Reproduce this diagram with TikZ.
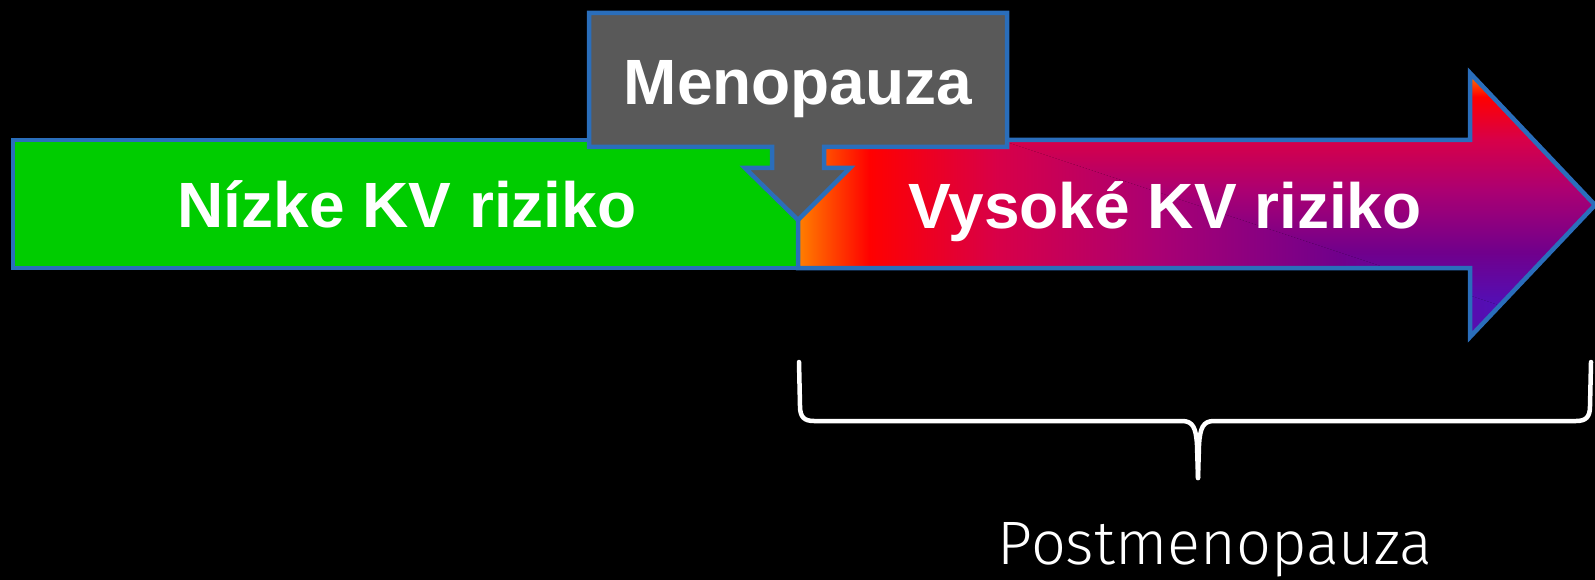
\documentclass[tikz,border=0pt]{standalone}
\usepackage{fontspec}
\setmainfont{Liberation Sans}
\newfontfamily\pmfont{Fira Sans Light}
\definecolor{edge}{RGB}{42,110,187}
\definecolor{lowgreen}{RGB}{0,204,0}
\definecolor{calloutgray}{RGB}{89,89,89}
\definecolor{ga}{RGB}{255,128,0}
\definecolor{gb}{RGB}{255,0,0}
\definecolor{gc}{RGB}{216,0,72}
\definecolor{gd}{RGB}{170,0,115}
\definecolor{ge}{RGB}{112,0,140}
\definecolor{gf}{RGB}{64,24,208}
\pgfdeclarehorizontalshading{riskh}{100bp}{color(0bp)=(ga); color(25bp)=(ga); color(29.5bp)=(gb); color(37.5bp)=(gc); color(47.5bp)=(gd); color(59bp)=(ge); color(75bp)=(gf); color(100bp)=(gf)}
\pgfdeclareverticalshading{riskv}{100bp}{color(0bp)=(gf); color(25bp)=(gf); color(41bp)=(ge); color(52.5bp)=(gd); color(62.5bp)=(gc); color(70.5bp)=(gb); color(75bp)=(ga); color(100bp)=(ga)}
\tikzset{
  outline/.style={draw=edge, line width=4.5pt, line join=miter},
  bigtext/.style={text=white, font=\fontsize{64}{70}\selectfont\bfseries, inner sep=0pt, anchor=base},
  bracepath/.style={draw=white, line width=4.5pt, line cap=round, line join=round},
}
\begin{document}
\begin{tikzpicture}[x=1pt,y=-1pt]
\useasboundingbox (0,0) rectangle (1595,580);
\fill[black] (0,0) rectangle (1595,580);

% low-risk green bar
\path[fill=lowgreen, outline] (13,140) rectangle (798,268);

% high-risk gradient arrow
\def\riskarrow{(798,140) -- (1470,140) -- (1470,73) -- (1595,205) -- (1470,337) -- (1470,268) -- (798,268) -- cycle}
\begin{scope}
  \clip \riskarrow;
  \begin{scope}
    \clip (798,73) -- (1595,337) -- (798,337) -- cycle;
    \shade[shading=riskh] (798,73) rectangle (1595,337);
  \end{scope}
  \begin{scope}
    \clip (798,73) -- (1595,73) -- (1595,337) -- cycle;
    \shade[shading=riskv] (798,73) rectangle (1595,337);
  \end{scope}
\end{scope}
\draw[outline] \riskarrow;

% menopause callout
\path[fill=calloutgray, outline] (589,13) -- (1007,13) -- (1007,147) -- (824,147) -- (824,168) -- (850,168) -- (798,220) -- (745,168) -- (772,168) -- (772,147) -- (589,147) -- cycle;

\node[bigtext] (meno) at (798,105) {Menopauza};
\node[bigtext] (low) at (407,228) {Nízke KV riziko};
\node[bigtext] (high) at (1165,229) {Vysoké KV riziko};

% brace
\coordinate (bl) at (799,362);
\coordinate (br) at (1591,362);
\coordinate (bt) at (1198,478);
\draw[bracepath] (bl) -- (800,406) .. controls (800,417) and (804,421) .. (814,421) -- (1182,421) .. controls (1193,421) and (1196,428) .. (1197,445) -- (bt);
\draw[bracepath] (br) -- (1590,406) .. controls (1590,417) and (1586,421) .. (1576,421) -- (1214,421) .. controls (1203,421) and (1200,428) .. (1199,445) -- (bt);

\node[text=white, inner sep=0pt, anchor=base] (post) at (1215,564) {\resizebox{434pt}{42pt}{\pmfont Postmenopauza}};
\end{tikzpicture}
\end{document}
